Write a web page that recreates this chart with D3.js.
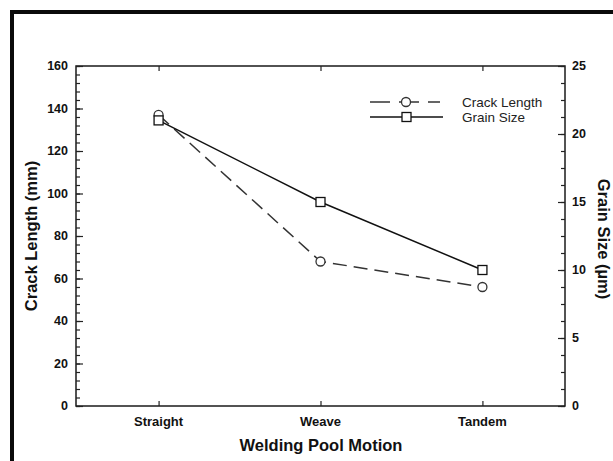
<!DOCTYPE html>
<html><head><meta charset="utf-8">
<script src="https://cdn.jsdelivr.net/npm/d3@7"></script>
<style>body{margin:0;background:#fff}svg{display:block}text{font-family:"Liberation Sans",Arial,sans-serif}</style>
</head><body>
<svg id="c" width="613" height="461"></svg>
<script>
const categories = ["Straight", "Weave", "Tandem"];
const crackLength = [137, 68, 56];
const grainSize = [21, 15, 10];
const leftTicks = [0, 20, 40, 60, 80, 100, 120, 140, 160];
const rightTicks = [0, 5, 10, 15, 20, 25];
const seriesNames = ["Crack Length", "Grain Size"];

const svg = d3.select("#c");
const L = 76, R = 565, T = 66, B = 406;

svg.append("rect").attr("x", 12).attr("y", 12).attr("width", 620).attr("height", 480)
  .attr("fill", "none").attr("stroke", "#0a0a0a").attr("stroke-width", 4);

const x = d3.scalePoint().domain(categories).range([L, R]).padding(0.51);
const yL = d3.scaleLinear().domain([0, 160]).range([B, T]);
const yR = d3.scaleLinear().domain([0, 25]).range([B, T]);

svg.append("rect").attr("x", L).attr("y", T).attr("width", R - L).attr("height", B - T)
  .attr("fill", "none").attr("stroke", "#1a1a1a").attr("stroke-width", 1.5);

const gl = svg.append("g").attr("transform", `translate(${L},0)`);
gl.call(d3.axisRight(yL).tickValues(d3.range(0, 161, 4)).tickSize(4).tickFormat(""));
gl.select(".domain").remove();
const glM = svg.append("g").attr("transform", `translate(${L},0)`);
glM.call(d3.axisRight(yL).tickValues(leftTicks).tickSize(7).tickFormat(""));
glM.select(".domain").remove();
leftTicks.forEach(v => svg.append("text").attr("x", L - 8).attr("y", yL(v)).attr("dy", "0.35em")
  .attr("text-anchor", "end").attr("font-size", 12.5).attr("font-weight", "bold").attr("fill", "#111").text(v));

const gr = svg.append("g").attr("transform", `translate(${R},0)`);
gr.call(d3.axisLeft(yR).tickValues(d3.range(0, 25.01, 1.25)).tickSize(4).tickFormat(""));
gr.select(".domain").remove();
const grM = svg.append("g").attr("transform", `translate(${R},0)`);
grM.call(d3.axisLeft(yR).tickValues(rightTicks).tickSize(7).tickFormat(""));
grM.select(".domain").remove();
rightTicks.forEach(v => svg.append("text").attr("x", R + 7).attr("y", yR(v)).attr("dy", "0.35em")
  .attr("text-anchor", "start").attr("font-size", 12.5).attr("font-weight", "bold").attr("fill", "#111").text(v));

const gb = svg.append("g").attr("transform", `translate(0,${B})`);
gb.call(d3.axisTop(x).tickSize(5).tickFormat(""));
gb.select(".domain").remove();
const gt = svg.append("g").attr("transform", `translate(0,${T})`);
gt.call(d3.axisBottom(x).tickSize(5).tickFormat(""));
gt.select(".domain").remove();
svg.selectAll(".tick line").attr("stroke", "#222").attr("stroke-width", 1.2);

categories.forEach(c => svg.append("text").attr("x", x(c)).attr("y", B + 20)
  .attr("text-anchor", "middle").attr("font-size", 13).attr("font-weight", "bold").attr("fill", "#111").text(c));

svg.append("text").attr("x", 321).attr("y", 451).attr("text-anchor", "middle")
  .attr("font-size", 16.5).attr("font-weight", "bold").attr("fill", "#111").text("Welding Pool Motion");
svg.append("text").attr("transform", `translate(37,${(T + B) / 2}) rotate(-90)`).attr("text-anchor", "middle")
  .attr("font-size", 16.5).attr("font-weight", "bold").attr("fill", "#111").text("Crack Length (mm)");
svg.append("text").attr("transform", `translate(598,${(T + B) / 2 + 3}) rotate(90)`).attr("text-anchor", "middle")
  .attr("font-size", 16.5).attr("font-weight", "bold").attr("fill", "#111").text("Grain Size (µm)");

const lineL = d3.line().x((d, i) => x(categories[i])).y(d => yL(d));
const lineR = d3.line().x((d, i) => x(categories[i])).y(d => yR(d));
svg.append("path").datum(crackLength).attr("d", lineL).attr("fill", "none")
  .attr("stroke", "#333").attr("stroke-width", 1.5).attr("stroke-dasharray", "14,7");
svg.append("path").datum(grainSize).attr("d", lineR).attr("fill", "none")
  .attr("stroke", "#111").attr("stroke-width", 1.5);

svg.selectAll(".pc").data(crackLength).enter().append("circle")
  .attr("cx", (d, i) => x(categories[i])).attr("cy", d => yL(d)).attr("r", 4.5)
  .attr("fill", "#fff").attr("stroke", "#333").attr("stroke-width", 1.3);
svg.selectAll(".ps").data(grainSize).enter().append("rect")
  .attr("x", (d, i) => x(categories[i]) - 4.5).attr("y", d => yR(d) - 4.5)
  .attr("width", 9).attr("height", 9)
  .attr("fill", "#fff").attr("stroke", "#111").attr("stroke-width", 1.3);

const lg = svg.append("g");
lg.append("line").attr("x1", 370).attr("x2", 440).attr("y1", 102).attr("y2", 102)
  .attr("stroke", "#333").attr("stroke-width", 1.5).attr("stroke-dasharray", "20,9");
lg.append("circle").attr("cx", 406).attr("cy", 102).attr("r", 4.5).attr("fill", "#fff").attr("stroke", "#333").attr("stroke-width", 1.3);
lg.append("line").attr("x1", 370).attr("x2", 443).attr("y1", 117).attr("y2", 117)
  .attr("stroke", "#111").attr("stroke-width", 1.5);
lg.append("rect").attr("x", 402).attr("y", 112.5).attr("width", 9).attr("height", 9).attr("fill", "#fff").attr("stroke", "#111").attr("stroke-width", 1.3);
lg.append("text").attr("x", 462).attr("y", 102).attr("dy", "0.35em").attr("font-size", 13.5).attr("fill", "#222").text(seriesNames[0]);
lg.append("text").attr("x", 462).attr("y", 117).attr("dy", "0.35em").attr("font-size", 13.5).attr("fill", "#222").text(seriesNames[1]);
</script>
</body></html>
